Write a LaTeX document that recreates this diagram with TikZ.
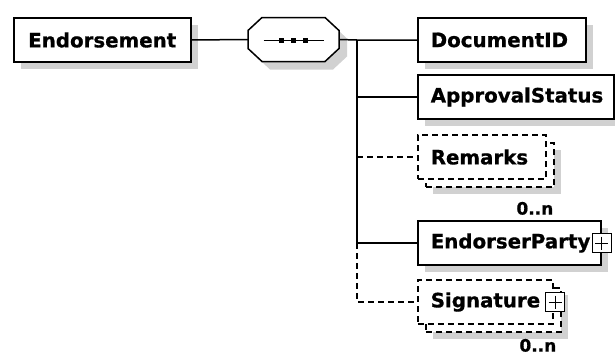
\documentclass[tikz,border=0pt]{standalone}
\usepackage{fontspec}
\setmainfont{DejaVu Sans}[BoldFeatures={FakeBold=0.8}]
\usetikzlibrary{shadows,calc}

\tikzset{
  base/.style={draw, fill=white, line width=1.5pt, anchor=west,
    inner xsep=13pt, inner ysep=0pt, text width=#1, align=left,
    minimum height=44pt, font=\bfseries\fontsize{19.8}{22}\selectfont},
  elem/.style={base=#1,
    general shadow={fill=black!18, shadow xshift=7pt, shadow yshift=-7pt}},
  optelem/.style={base=#1, dash pattern=on 6pt off 4pt,
    general shadow={fill=black!18, shadow xshift=15pt, shadow yshift=-15pt},
    general shadow={draw, fill=white, line width=1.5pt, dash pattern=on 6pt off 4pt,
      shadow xshift=8pt, shadow yshift=-8pt}},
  seqbox/.style={minimum width=91pt, minimum height=44pt, inner sep=0pt},
  octa/.style={draw, fill=white, line width=1.5pt},
  octshadow/.style={fill=black!18},
  plusbox/.style={draw, fill=white, line width=1pt, minimum size=19pt, inner sep=0pt,
    path picture={
      \draw[line width=1pt] ([yshift=-3pt]path picture bounding box.north)
        -- ([yshift=3pt]path picture bounding box.south);
      \draw[line width=1pt] ([xshift=3pt]path picture bounding box.west)
        -- ([xshift=-3pt]path picture bounding box.east);}},
  occ/.style={inner sep=0pt, font=\bfseries\fontsize{17}{20}\selectfont},
  conn/.style={line width=1.5pt},
  optconn/.style={line width=1.5pt, dash pattern=on 6pt off 4pt}
}

\begin{document}
\begin{tikzpicture}[x=1pt, y=-1pt]
  \useasboundingbox (0,0) rectangle (615,356);

  % root element and sequence compositor
  \node[elem=151pt, align=center] (root) at (13,40) {Endorsement};
  \fill[octshadow] (270,25.5) -- (333,25.5) -- (347,38.5) -- (347,56.5)
    -- (333,69.5) -- (270,69.5) -- (256,56.5) -- (256,38.5) -- cycle;
  \path[octa] (262,17.5) -- (325,17.5) -- (339,30.5) -- (339,48.5)
    -- (325,61.5) -- (262,61.5) -- (248,48.5) -- (248,30.5) -- cycle;
  \node[seqbox] (seq) at (293.5,39.5) {};
  \draw[conn] ([xshift=-30pt, yshift=-1pt]seq.center) -- ([xshift=30pt, yshift=-1pt]seq.center);
  \foreach \dx in {-12,0,12}
    \fill ([xshift=\dx pt, yshift=-1pt]seq.center) +(-2.8,-2.8) rectangle +(2.8,2.8);

  % children
  \node[elem=142pt] (doc) at (417,40) {DocumentID};
  \node[elem=170pt] (appr) at (417,97) {ApprovalStatus};
  \node[optelem=102pt] (rem) at (417,157) {Remarks};
  \node[elem=157pt] (party) at (417,243) {EndorserParty};
  \node[optelem=109pt] (sig) at (417,302) {Signature};

  \node[plusbox] (partyplus) at (party.east) {};
  \node[plusbox] (sigplus) at ([xshift=1.5pt]sig.east) {};

  \node[occ, anchor=north east] (remocc) at ([xshift=7pt, yshift=-22pt]rem.south east) {0..n};
  \node[occ, anchor=north east] (sigocc) at ([xshift=3pt, yshift=-14pt]sig.south east) {0..n};

  % connectors
  \coordinate (bus) at (357,40);
  \draw[conn] (root.east) -- (seq.west);
  \draw[conn] (seq.east) -- (bus) -- (doc.west);
  \draw[conn] (bus) |- (appr.west);
  \draw[conn] (bus) |- (party.west);
  \draw[optconn] (bus |- rem.west) -- (rem.west);
  \draw[optconn] (bus |- party.west) |- (sig.west);
\end{tikzpicture}
\end{document}
